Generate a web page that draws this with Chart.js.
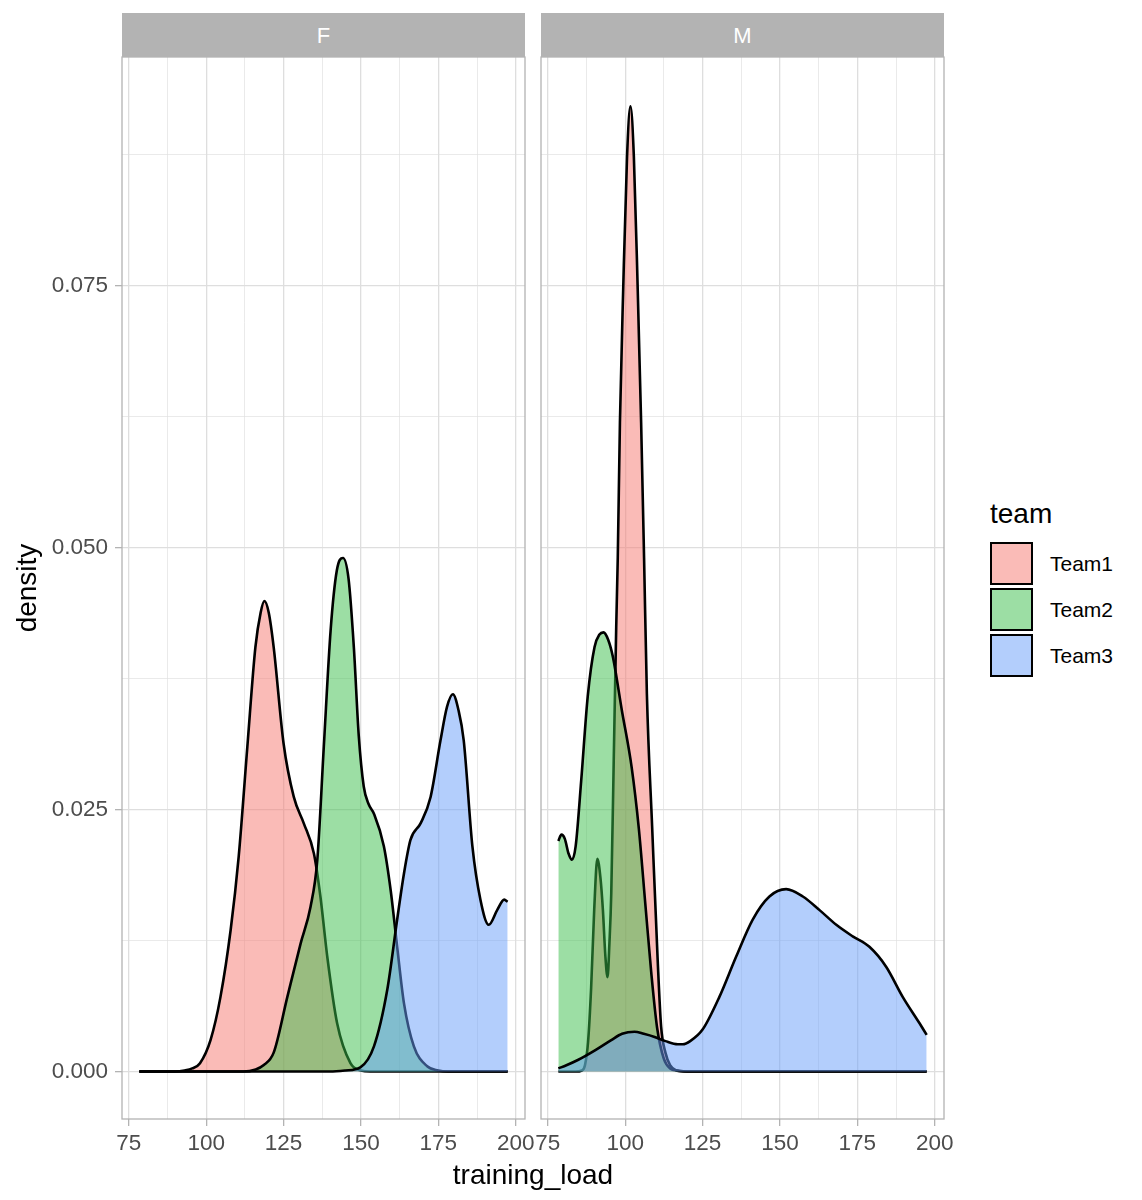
<!DOCTYPE html>
<html>
<head>
<meta charset="utf-8">
<script src="https://cdn.jsdelivr.net/npm/chart.js@4.4.1/dist/chart.umd.min.js"></script>
<style>
html,body{margin:0;padding:0;background:#fff;}
#wrap{position:relative;width:1142px;height:1200px;overflow:hidden;font-family:"Liberation Sans",Arial,Helvetica,sans-serif;background:#fff;}
canvas{position:absolute;top:0;}
.strip{position:absolute;top:13px;height:44px;background:#B3B3B3;color:#fff;font-size:22px;line-height:45px;text-align:center;}
.title{position:absolute;color:#000;font-size:28px;white-space:nowrap;text-align:center;}
.key{position:absolute;left:990px;width:43px;height:43px;box-sizing:border-box;border:2.7px solid #000;}
.klab{position:absolute;left:1050px;font-size:21px;height:30px;line-height:30px;color:#000;}
</style>
</head>
<body>
<div id="wrap">
  <canvas id="cF" width="545" height="1200" style="left:0px;width:545px;height:1200px"></canvas>
  <canvas id="cM" width="440" height="1200" style="left:530px;width:440px;height:1200px"></canvas>
  <div class="strip" id="stripF" style="left:122px;width:403px;"></div>
  <div class="strip" id="stripM" style="left:541px;width:403px;"></div>
  <div class="title" id="xTitle" style="left:333px;width:400px;top:1159px;height:32px;line-height:32px;"></div>
  <div class="title" id="yTitle" style="left:-73px;width:200px;top:572px;height:32px;line-height:32px;transform:rotate(-90deg);"></div>
  <div class="title" id="legTitle" style="left:990px;top:498px;height:32px;line-height:32px;text-align:left;"></div>
  <div id="legend"></div>
</div>
<script>
// ---------- data ----------
const panels = ['F', 'M'];
const teams = ['Team1', 'Team2', 'Team3'];
const teamColors = ['246,119,112', '57,189,73', '104,158,250'];
const xTickLabels = [75, 100, 125, 150, 175, 200];
const yTickLabels = [0, 0.025, 0.05, 0.075];
const xAxisTitle = 'training_load';
const yAxisTitle = 'density';
const legendTitle = 'team';

// Panel F
const fTeam1X = [78.4, 90, 93, 95.5, 98, 101.4, 104.6, 107.9, 110.5, 113.3, 115.9, 117.6, 118.8, 120.2, 121.8, 125, 128.3, 131.5, 134.8, 136.9, 139.1, 142.3, 146.6, 150, 153, 197.4];
const fTeam1Y = [0, 0, 0.0001, 0.0003, 0.0008, 0.003, 0.0071, 0.0135, 0.0205, 0.031, 0.0405, 0.0438, 0.0449, 0.0438, 0.0405, 0.0313, 0.0262, 0.0237, 0.0208, 0.0167, 0.011, 0.0046, 0.0008, 0.0001, 0, 0];
const fTeam2X = [78.4, 112, 116, 118.5, 121.8, 126.2, 130.5, 133.7, 135.9, 138, 140.2, 142.2, 144.2, 146, 147.7, 149.3, 150.9, 152.5, 154.2, 157.4, 159.6, 161.7, 163.9, 167.1, 171.4, 175, 178, 197.4];
const fTeam2Y = [0, 0, 0.0002, 0.0006, 0.0018, 0.0071, 0.0122, 0.0157, 0.0202, 0.031, 0.0421, 0.0478, 0.049, 0.047, 0.0405, 0.032, 0.0272, 0.0255, 0.0246, 0.0215, 0.0173, 0.0119, 0.0065, 0.0024, 0.0005, 0.0001, 0, 0];
const fTeam3X = [78.4, 140, 145, 149.8, 154.2, 158.5, 161.7, 163.9, 166, 169.3, 172.5, 175.7, 177.8, 179.7, 181.5, 183.2, 186, 188.6, 191.3, 194, 196.3, 197.4];
const fTeam3Y = [0, 0, 0.0001, 0.0004, 0.0024, 0.0078, 0.0145, 0.0189, 0.0221, 0.0237, 0.0262, 0.0316, 0.0348, 0.036, 0.0345, 0.0316, 0.0215, 0.0164, 0.014, 0.0154, 0.0164, 0.0162];

// Panel M
const mTeam1X = [78.4, 84, 86, 87, 88, 89, 90, 91, 92, 92.8, 93.6, 94.3, 94.9, 95.5, 96.3, 97.1, 97.6, 98.3, 99.35, 100.6, 101.7, 102.8, 104.05, 105.15, 106.1, 107.0, 108.7, 110.5, 111.6, 113.0, 114.5, 116.5, 119, 197.4];
const mTeam1Y = [0, 0, 0.0001, 0.0006, 0.0028, 0.008, 0.0155, 0.0203, 0.0185, 0.0154, 0.011, 0.009, 0.0122, 0.017, 0.0297, 0.0424, 0.049, 0.0619, 0.0746, 0.0873, 0.0921, 0.0873, 0.0746, 0.0619, 0.049, 0.0361, 0.0234, 0.0106, 0.0043, 0.0018, 0.0006, 0.0001, 0, 0];
const mTeam2X = [78.4, 79.4, 80.5, 81.7, 82.8, 84.0, 85.8, 87.9, 90.1, 91.7, 93.0, 94.5, 96.0, 98.9, 102.1, 104.4, 106.5, 108.4, 110.3, 112.5, 114.5, 117, 120, 197.4];
const mTeam2Y = [0.022, 0.0226, 0.0222, 0.0208, 0.0202, 0.0215, 0.0278, 0.0358, 0.0405, 0.0417, 0.0419, 0.0412, 0.0396, 0.0345, 0.029, 0.0232, 0.016, 0.0095, 0.0042, 0.0012, 0.0003, 0.0001, 0, 0];
const mTeam3X = [78.4, 81, 84.7, 90.1, 95.5, 99, 103, 106, 109.5, 113, 117, 118.6, 121, 125, 130.4, 135.9, 141.2, 146.6, 152, 157.4, 162.8, 168.2, 173.5, 178.9, 184.3, 189.7, 195.1, 197.4];
const mTeam3Y = [0.0003, 0.0006, 0.0011, 0.002, 0.003, 0.0036, 0.0038, 0.0036, 0.0033, 0.0029, 0.0026, 0.0026, 0.0029, 0.004, 0.0071, 0.011, 0.0145, 0.0167, 0.0174, 0.0167, 0.0154, 0.014, 0.0129, 0.0119, 0.01, 0.0071, 0.0046, 0.0035];

// ---------- layout / style ----------
const FONT = '"Liberation Sans", Arial, Helvetica, sans-serif';
const X_MIN = 72.8, X_MAX = 203.0;
const Y_MIN = -0.00453, Y_MAX = 0.0968;
const GRID = '#DEDEDE', AXISGREY = '#B3B3B3', TICKTXT = '#4D4D4D';

document.getElementById('stripF').textContent = panels[0];
document.getElementById('stripM').textContent = panels[1];
document.getElementById('xTitle').textContent = xAxisTitle;
document.getElementById('yTitle').textContent = yAxisTitle;
document.getElementById('legTitle').textContent = legendTitle;

const legend = document.getElementById('legend');
const keyTops = [542, 588, 634];
teams.forEach((t, i) => {
  const k = document.createElement('div');
  k.className = 'key';
  k.style.top = keyTops[i] + 'px';
  k.style.background = `rgba(${teamColors[i]},0.5)`;
  legend.appendChild(k);
  const l = document.createElement('div');
  l.className = 'klab';
  l.style.top = (keyTops[i] + 21.5 - 15) + 'px';
  l.textContent = t;
  legend.appendChild(l);
});

function isMajorX(v) { return xTickLabels.some(t => Math.abs(t - v) < 1e-6); }
function isMajorY(v) { return yTickLabels.some(t => Math.abs(t - v) < 1e-9); }

function ds(idx, xs, ys) {
  return {
    label: teams[idx],
    data: xs.map((x, i) => ({ x: x, y: ys[i] })),
    borderColor: '#000000',
    borderWidth: 2.6,
    backgroundColor: `rgba(${teamColors[idx]},0.5)`,
    fill: 'origin',
    pointRadius: 0,
    pointHoverRadius: 0,
    cubicInterpolationMode: 'monotone',
    borderCapStyle: 'butt',
    borderJoinStyle: 'round',
    order: 3 - idx
  };
}

const panelBorder = {
  id: 'panelBorder',
  afterDatasetsDraw(chart) {
    const { ctx, chartArea: a } = chart;
    ctx.save();
    ctx.strokeStyle = AXISGREY;
    ctx.lineWidth = 1.3;
    ctx.strokeRect(a.left, a.top, a.right - a.left, a.bottom - a.top);
    ctx.restore();
  }
};

function makeOptions(first) {
  return {
    responsive: false,
    animation: false,
    devicePixelRatio: 1,
    layout: { padding: first ? { left: 0, right: 20, top: 57, bottom: 0 } : { left: 11, right: 26, top: 57, bottom: 0 } },
    plugins: { legend: { display: false }, tooltip: { enabled: false }, filler: { drawTime: 'beforeDatasetDraw' } },
    scales: {
      x: {
        type: 'linear', min: X_MIN, max: X_MAX,
        afterFit(s) { s.height = 81; s.paddingLeft = 0; s.paddingRight = 0; },
        border: { display: false },
        grid: {
          color: GRID,
          lineWidth: c => isMajorX(c.tick.value) ? 1.3 : 0.65,
          tickLength: 7,
          tickColor: c => isMajorX(c.tick.value) ? AXISGREY : 'rgba(0,0,0,0)',
          tickWidth: 1.3
        },
        ticks: {
          stepSize: 12.5, includeBounds: false, autoSkip: false, maxRotation: 0, minRotation: 0,
          color: TICKTXT, font: { family: FONT, size: 22.5 }, padding: 4,
          callback: v => isMajorX(v) ? String(Math.round(v)) : ''
        }
      },
      y: {
        type: 'linear', min: Y_MIN, max: Y_MAX,
        afterFit(s) { s.width = first ? 122 : 0; s.paddingTop = 0; s.paddingBottom = 0; },
        border: { display: false },
        grid: {
          color: GRID,
          lineWidth: c => isMajorY(c.tick.value) ? 1.3 : 0.65,
          drawTicks: first,
          tickLength: 7,
          tickColor: c => isMajorY(c.tick.value) ? AXISGREY : 'rgba(0,0,0,0)',
          tickWidth: 1.3
        },
        ticks: {
          display: first,
          stepSize: 0.0125, includeBounds: false, autoSkip: false,
          color: TICKTXT, font: { family: FONT, size: 22.5 }, padding: 7,
          callback: v => { const t = yTickLabels.find(t => Math.abs(t - v) < 1e-9); return t === undefined ? '' : t.toFixed(3); }
        }
      }
    }
  };
}

new Chart(document.getElementById('cF'), {
  type: 'line',
  data: { datasets: [ds(0, fTeam1X, fTeam1Y), ds(1, fTeam2X, fTeam2Y), ds(2, fTeam3X, fTeam3Y)] },
  options: makeOptions(true),
  plugins: [panelBorder]
});
new Chart(document.getElementById('cM'), {
  type: 'line',
  data: { datasets: [ds(0, mTeam1X, mTeam1Y), ds(1, mTeam2X, mTeam2Y), ds(2, mTeam3X, mTeam3Y)] },
  options: makeOptions(false),
  plugins: [panelBorder]
});
</script>
</body>
</html>
